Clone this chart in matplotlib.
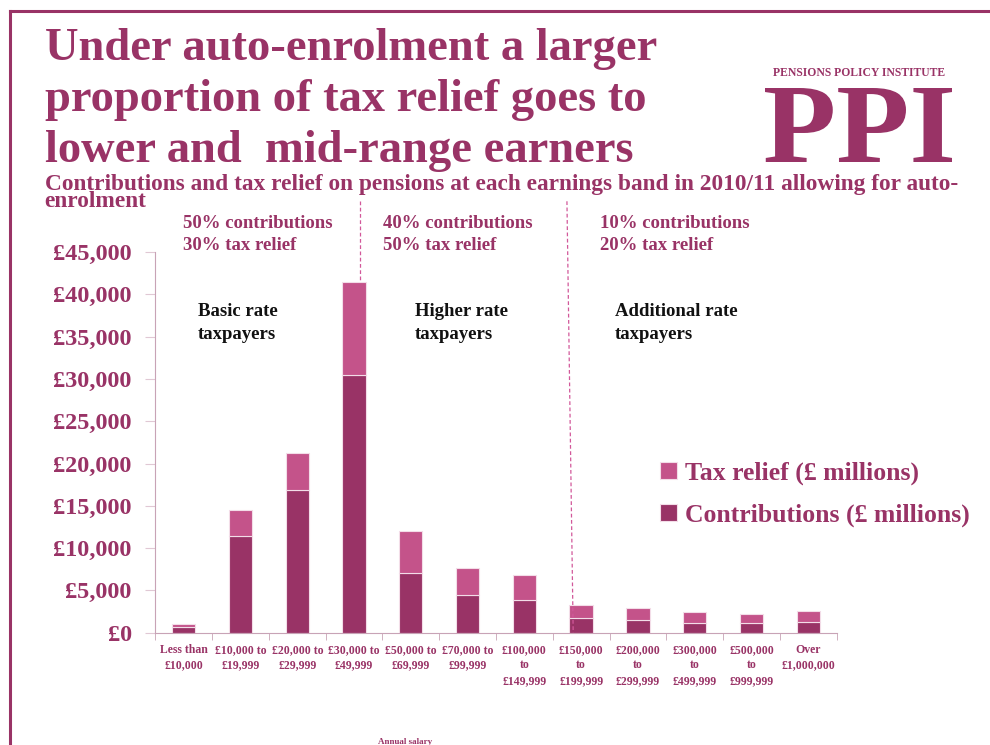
import matplotlib.pyplot as plt
import numpy as np
from matplotlib.textpath import TextPath
from matplotlib.patches import PathPatch
from matplotlib.font_manager import FontProperties
from matplotlib.transforms import Affine2D
from matplotlib.lines import Line2D

# earnings bands and pension figures (£ millions), 2010/11 with auto-enrolment
bands = ["Less than\n£10,000", "£10,000 to\n£19,999", "£20,000 to\n£29,999",
         "£30,000 to\n£49,999", "£50,000 to\n£69,999", "£70,000 to\n£99,999",
         "£100,000\nto\n£149,999", "£150,000\nto\n£199,999", "£200,000\nto\n£299,999",
         "£300,000\nto\n£499,999", "£500,000\nto\n£999,999", "Over\n£1,000,000"]
contributions = [700, 11400, 16900, 30500, 7100, 4500, 3900, 1770, 1460, 1180, 1100, 1300]
totals = [1000, 14500, 21200, 41450, 12050, 7700, 6850, 3300, 2870, 2400, 2250, 2600]
tax_relief = [t - c for t, c in zip(totals, contributions)]

maroon = '#993366'
pink = '#c4538a'
serif = 'Liberation Serif'

fig = plt.figure(figsize=(9.9, 7.45), dpi=100)
ax = fig.add_axes([0.157, 0.1507, 0.688, 0.511])

x = np.arange(len(bands))
ax.bar(x, contributions, width=0.41, color=maroon, edgecolor='#f3dde8', linewidth=0.8,
       label='Contributions (£ millions)', zorder=2)
ax.bar(x, tax_relief, width=0.41, bottom=contributions, color=pink, edgecolor='#f3dde8',
       linewidth=0.8, label='Tax relief (£ millions)', zorder=2)

ax.set_xlim(-0.5, len(bands) - 0.5)
ax.set_ylim(0, 45000)
ax.set_yticks(np.arange(0, 45001, 5000))
ax.set_yticklabels(['£{:,}'.format(v) for v in range(0, 45001, 5000)],
                   fontfamily=serif, fontweight='bold', fontsize=17.5, color=maroon)
ax.set_xticks(x)
ax.set_xticklabels(bands, fontfamily=serif, fontweight='bold', fontsize=8.5, color=maroon,
                   linespacing=1.4)
ax.set_xticks(np.arange(-0.5, len(bands)), minor=True)
ax.tick_params(axis='x', which='major', length=0, pad=8)
ax.tick_params(axis='x', which='minor', length=5, color='#c8a3b6')
ax.tick_params(axis='y', length=7, color='#e0c8d4', pad=10)
for s in ['top', 'right']:
    ax.spines[s].set_visible(False)
for s in ['left', 'bottom']:
    ax.spines[s].set_color('#c8a3b6')

ax.set_xlabel('Annual salary', fontfamily=serif, fontweight='bold', fontsize=6.5, color=maroon)
ax.xaxis.set_label_coords(0.366, -0.277)

# dashed band dividers
ax.plot([3.1, 3.1], [51000, 41450], ls=(0, (3, 2)), lw=0.9, color='#d2589a', clip_on=False, zorder=3)
ax.plot([6.75, 6.86], [51000, 0], ls=(0, (3, 2)), lw=0.9, color='#d2589a', clip_on=False, zorder=3)

handles, labels = ax.get_legend_handles_labels()
leg = ax.legend(handles[::-1], labels[::-1], loc='center left', bbox_to_anchor=(0.707, 0.364),
                frameon=False, handlelength=0.65, handleheight=0.65, handletextpad=0.3,
                labelspacing=0.7, prop=FontProperties(family=serif, weight='bold', size=18.5))
for t in leg.get_texts():
    t.set_color(maroon)

# titles
fig.text(0.045, 0.962, "Under auto-enrolment a larger\nproportion of tax relief goes to\nlower and  mid-range earners",
         fontfamily=serif, fontweight='bold', fontsize=33.5, color=maroon, va='top', linespacing=1.27)
fig.text(0.045, 0.766, "Contributions and tax relief on pensions at each earnings band in 2010/11 allowing for auto-\nenrolment",
         fontfamily=serif, fontweight='bold', fontsize=16.8, color=maroon, va='top', linespacing=0.72)

# band notes
notes = [(183, "50% contributions\n30% tax relief", 198, "Basic rate\ntaxpayers"),
         (383, "40% contributions\n50% tax relief", 415, "Higher rate\ntaxpayers"),
         (600, "10% contributions\n20% tax relief", 615, "Additional rate\ntaxpayers")]
for xs, share, xr, rate in notes:
    fig.text(xs / 990, 1 - 215 / 745, share, fontfamily=serif, fontweight='bold', fontsize=13.5,
             color=maroon, va='top', linespacing=1.42)
    fig.text(xr / 990, 1 - 303 / 745, rate, fontfamily=serif, fontweight='bold', fontsize=13.5,
             color='#111111', va='top', linespacing=1.45)

# PPI logo, squeezed into its box
fig.text(859 / 990, 1 - 73 / 745, "PENSIONS POLICY INSTITUTE", fontfamily=serif, fontweight='bold',
         fontsize=8.4, color=maroon, ha='center', va='center')
tp = TextPath((0, 0), "PPI", size=100, prop=FontProperties(family=serif, weight='bold'))
pts = np.concatenate(tp.to_polygons())
x0, y0 = pts.min(axis=0)
x1, y1 = pts.max(axis=0)
sx = 1.87 / (x1 - x0)
sy = 0.74 / (y1 - y0)
tr = Affine2D().translate(-x0, -y0).scale(sx, sy).translate(7.65, 5.83) + fig.dpi_scale_trans
fig.add_artist(PathPatch(tp, facecolor=maroon, edgecolor='none', transform=tr))

# slide frame
fig.add_artist(Line2D([0.0096, 0.0096], [0, 0.985], color=maroon, lw=2.2, transform=fig.transFigure))
fig.add_artist(Line2D([0.0096, 1], [0.985, 0.985], color=maroon, lw=2.2, transform=fig.transFigure))

fig.savefig('out.png', dpi=100)
